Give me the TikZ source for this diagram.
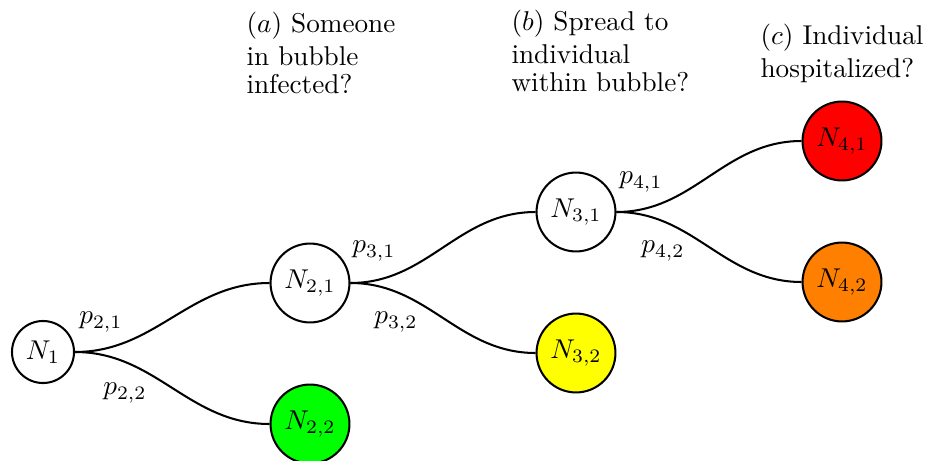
\documentclass[tikz,border=0pt]{standalone}
\usepackage{xcolor}
\definecolor{cgreen}{RGB}{0,255,0}
\definecolor{cyellow}{RGB}{255,255,0}
\definecolor{cred}{RGB}{255,0,0}
\definecolor{corange}{RGB}{255,128,0}
\begin{document}
\begin{tikzpicture}[x=0.3676pt,y=-0.3676pt,
  state/.style={circle,draw,line width=0.75pt,minimum size=29pt,inner sep=0pt},
  small/.style={circle,draw,line width=0.75pt,minimum size=22.8pt,inner sep=0pt},
  link/.style={line width=0.75pt},
  plab/.style={inner sep=0pt},
  head/.style={anchor=north west,inner sep=0pt,align=left,font={\fontsize{10}{12}\selectfont}}]
\useasboundingbox (0,0) rectangle (930,461);
\node[small] (N1) at (43,352) {$N_1$};
\node[state] (N21) at (310,283) {$N_{2,1}$};
\node[state,fill=cgreen] (N22) at (310,424) {$N_{2,2}$};
\node[state] (N31) at (576,212) {$N_{3,1}$};
\node[state,fill=cyellow] (N32) at (576,353) {$N_{3,2}$};
\node[state,fill=cred] (N41) at (842,141) {$N_{4,1}$};
\node[state,fill=corange] (N42) at (842,282) {$N_{4,2}$};
\draw[link] (N1.east) to[out=0,in=180] (N21.west);
\draw[link] (N1.east) to[out=0,in=180] (N22.west);
\draw[link] (N21.east) to[out=0,in=180] (N31.west);
\draw[link] (N21.east) to[out=0,in=180] (N32.west);
\draw[link] (N31.east) to[out=0,in=180] (N41.west);
\draw[link] (N31.east) to[out=0,in=180] (N42.west);
\node[plab] (p21) at (101,322) {$p_{2,1}$};
\node[plab] (p22) at (125,393) {$p_{2,2}$};
\node[plab] (p31) at (374,251) {$p_{3,1}$};
\node[plab] (p32) at (396,322) {$p_{3,2}$};
\node[plab] (p41) at (641,182) {$p_{4,1}$};
\node[plab] (p42) at (663,251) {$p_{4,2}$};
\node[head] (ta) at (246,11.8) {$(a)$ Someone\\in bubble\\[-1.5pt]infected?};
\node[head] (tb) at (511,9.8) {$(b)$ Spread to\\individual\\[-1.5pt]within bubble?};
\node[head] (tc) at (760,23.8) {$(c)$ Individual\\hospitalized?};
\end{tikzpicture}
\end{document}
